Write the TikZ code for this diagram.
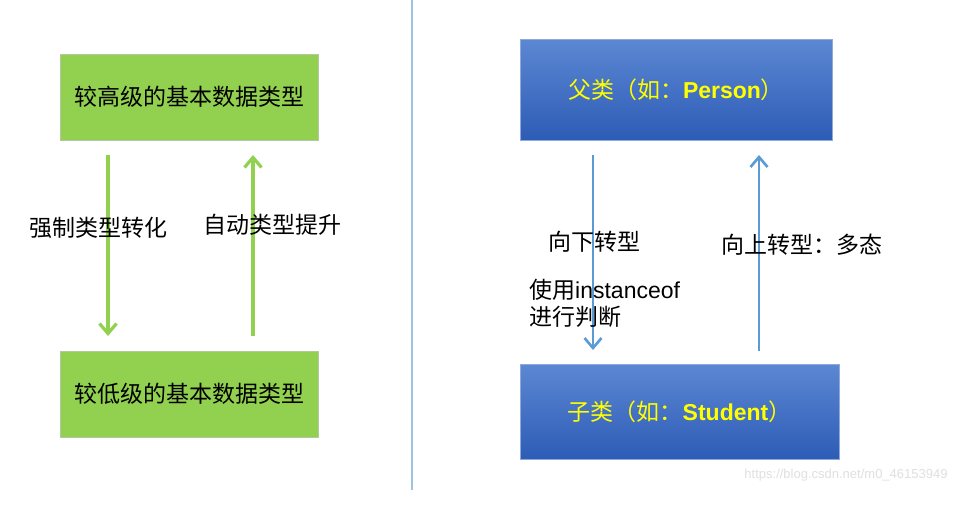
\documentclass[tikz,border=0pt]{standalone}
\usepackage{fontspec}
\setmainfont{Liberation Sans}
\newfontfamily\cjk{Noto Sans CJK SC}
\usetikzlibrary{arrows.meta}
\definecolor{gfill}{HTML}{92D050}
\definecolor{gborder}{HTML}{B4C7A0}
\definecolor{btop}{HTML}{5C87D3}
\definecolor{bbot}{HTML}{2D5CB6}
\definecolor{bborder}{HTML}{8EAADB}
\definecolor{barrow}{HTML}{5B9BD5}
\definecolor{divider}{HTML}{9DC3E6}
\definecolor{ytext}{HTML}{FFFF00}
\tikzset{
  gbox/.style={draw=gborder, line width=0.8pt, fill=gfill, minimum width=258pt, minimum height=86pt, inner sep=0pt, font=\cjk\fontsize{23}{27}\selectfont},
  bbox/.style={draw=bborder, line width=0.8pt, top color=btop, bottom color=bbot, minimum height=100pt, inner sep=0pt, text=ytext, font=\fontsize{23}{27}\selectfont},
  garrow/.style={draw=gfill, line width=3.2pt, -{Straight Barb[length=10pt,width=17pt,line width=3.2pt]}},
  barrowst/.style={draw=barrow, line width=2.6pt, -{Straight Barb[length=10pt,width=17pt,line width=2.6pt]}},
  lbl/.style={font=\cjk\fontsize{23}{27}\selectfont, inner sep=0pt, text=black},
}
\begin{document}
\begin{tikzpicture}[x=1pt,y=-1pt]
\useasboundingbox (0,0) rectangle (961,504);
\fill[white] (0,0) rectangle (961,504);
% divider
\draw[divider, line width=1.2pt] (412,0) coordinate (dtop) -- (412,490) coordinate (dbot);
% left side
\node[gbox] (g1) at (189,97) {较高级的基本数据类型};
\node[gbox] (g2) at (189,394) {较低级的基本数据类型};
\coordinate (ga1) at (108,155);
\coordinate (ga2) at (108,336);
\coordinate (gb1) at (253,336);
\coordinate (gb2) at (253,155);
\draw[garrow] (ga1) -- (ga2);
\draw[garrow] (gb1) -- (gb2);
\node[lbl] (l1) at (98,228) {强制类型转化};
\node[lbl] (l2) at (272,225) {自动类型提升};
% right side
\node[bbox, minimum width=312pt, minimum height=101pt] (b1) at (676,89.5) {{\cjk 父类（如：}\textbf{Person}{\cjk ）}};
\node[bbox, minimum width=319pt, minimum height=95pt] (b2) at (679.5,411.5) {{\cjk 子类（如：}\textbf{Student}{\cjk ）}};
\coordinate (ba1) at (593,155);
\coordinate (ba2) at (593,350);
\coordinate (bb1) at (759,351);
\coordinate (bb2) at (759,155);
\draw[barrowst] (ba1) -- (ba2);
\draw[barrowst] (bb1) -- (bb2);
\node[lbl] (l3) at (594,242) {向下转型};
\node[lbl] (l4) at (802,245) {向上转型：多态};
\node[lbl, anchor=west, align=left, font=\fontsize{23}{27}\selectfont] (l5) at (529,303) {{\cjk 使用}instanceof\\{\cjk 进行判断}};
% watermark
\node[inner sep=0pt, text=black!12, font=\fontsize{13}{16}\selectfont] (wm) at (846,475) {https://blog.csdn.net/m0\_46153949};
\end{tikzpicture}
\end{document}
